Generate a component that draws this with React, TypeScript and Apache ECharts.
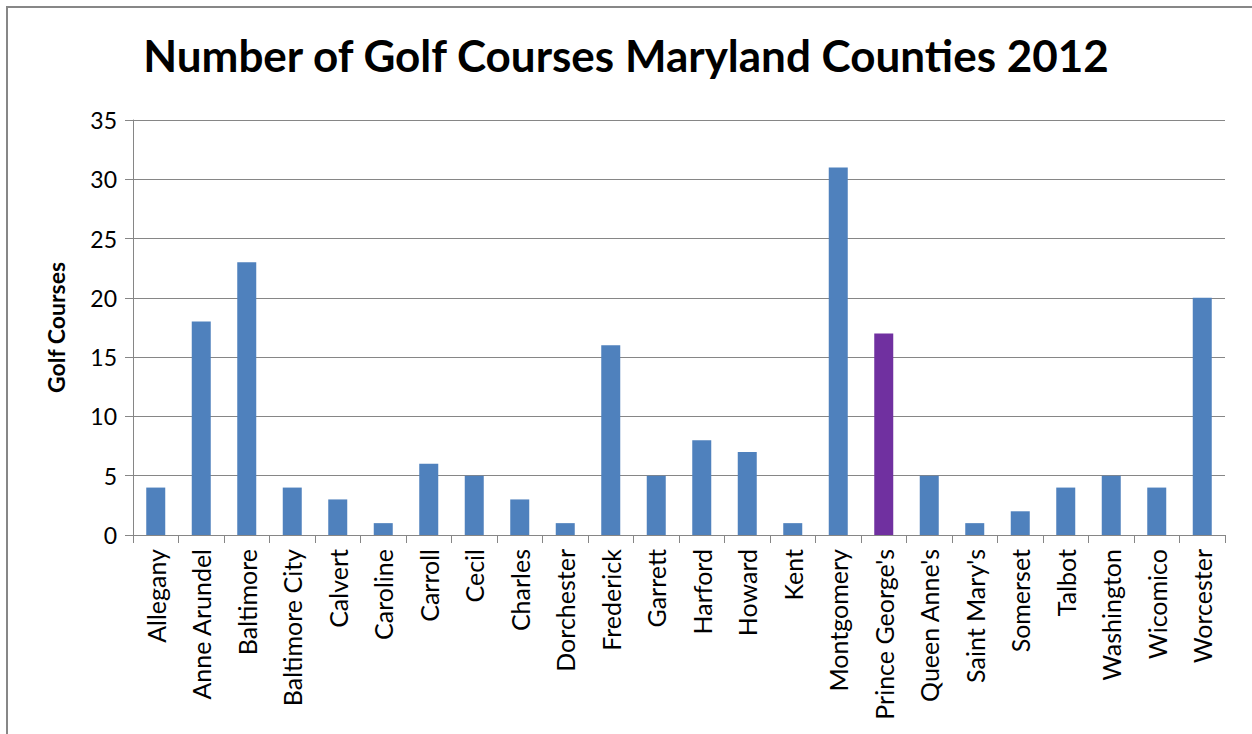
import React, { useEffect, useRef } from "react";
import * as echarts from "echarts";

const counties = [
  "Allegany", "Anne Arundel", "Baltimore", "Baltimore City", "Calvert", "Caroline",
  "Carroll", "Cecil", "Charles", "Dorchester", "Frederick", "Garrett", "Harford",
  "Howard", "Kent", "Montgomery", "Prince George's", "Queen Anne's", "Saint Mary's",
  "Somerset", "Talbot", "Washington", "Wicomico", "Worcester",
];
const golfCourses = [4, 18, 23, 4, 3, 1, 6, 5, 3, 1, 16, 5, 8, 7, 1, 31, 17, 5, 1, 2, 4, 5, 4, 20];
const highlighted = "Prince George's";

const BLUE = "#4F81BD";
const PURPLE = "#7030A0";
const GRAY = "#868686";
const FONT = "Lato, 'Open Sans', sans-serif";

export default function App() {
  const ref = useRef<HTMLDivElement>(null);
  useEffect(() => {
    if (!ref.current) return;
    const chart = echarts.init(ref.current, undefined, { renderer: "svg" });
    chart.setOption({
      animation: false,
      backgroundColor: "#fff",
      graphic: [
        {
          type: "rect",
          shape: { x: 7, y: 7, width: 1260, height: 760 },
          style: { fill: "none", stroke: "#878787", lineWidth: 2 },
        },
      ],
      title: {
        text: "Number of Golf Courses Maryland Counties 2012",
        left: "center",
        top: 28,
        textStyle: { fontFamily: FONT, fontWeight: "bold", fontSize: 44, color: "#000" },
      },
      grid: { left: 133, right: 27, top: 120, bottom: 199, containLabel: false },
      xAxis: {
        type: "category",
        data: counties,
        axisLine: { lineStyle: { color: GRAY, width: 1 } },
        axisTick: { show: true, alignWithLabel: false, length: 8, lineStyle: { color: GRAY } },
        axisLabel: {
          rotate: 90,
          interval: 0,
          margin: 14,
          fontFamily: FONT,
          fontSize: 25,
          color: "#000",
        },
      },
      yAxis: {
        type: "value",
        min: 0,
        max: 35,
        interval: 5,
        name: "Golf Courses",
        nameLocation: "middle",
        nameGap: 66,
        nameTextStyle: { fontFamily: FONT, fontWeight: "bold", fontSize: 23, color: "#000" },
        axisLine: { show: true, lineStyle: { color: GRAY, width: 1 } },
        axisTick: { show: true, length: 8, lineStyle: { color: GRAY } },
        axisLabel: { fontFamily: FONT, fontSize: 23, color: "#000", margin: 16 },
        splitLine: { show: true, lineStyle: { color: GRAY, width: 1 } },
      },
      series: [
        {
          type: "bar",
          barWidth: 19,
          data: golfCourses.map((v, i) => ({
            value: v,
            itemStyle: { color: counties[i] === highlighted ? PURPLE : BLUE },
          })),
        },
      ],
    });
    return () => chart.dispose();
  }, []);
  return (
    <div
      ref={ref}
      style={{ position: "absolute", left: 0, top: 0, width: 1252, height: 734 }}
    />
  );
}
